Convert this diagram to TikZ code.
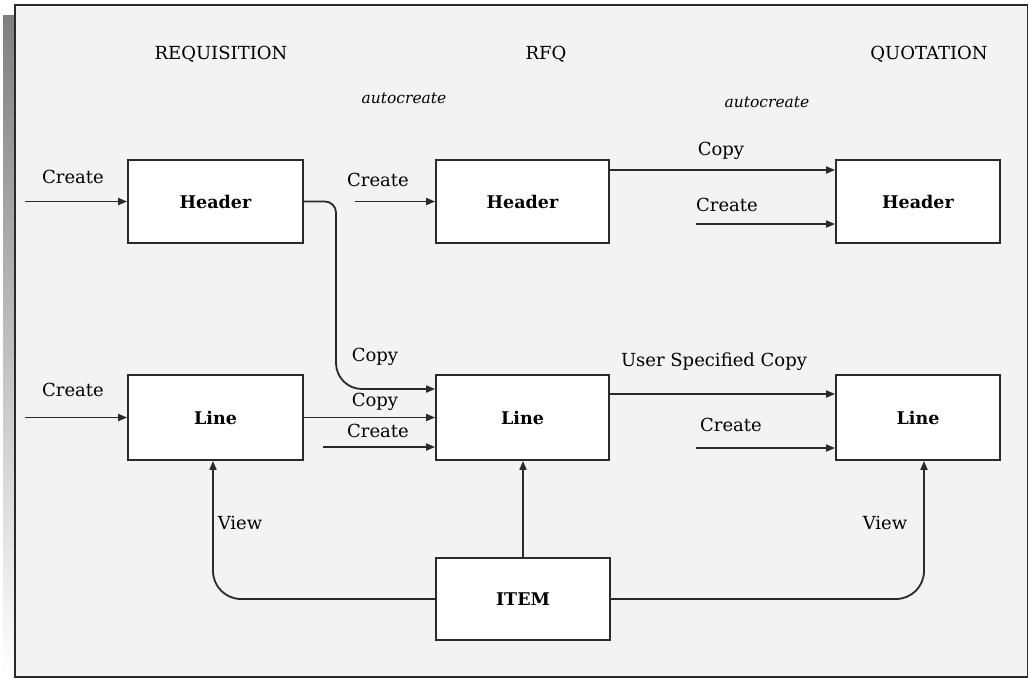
\documentclass[tikz,border=0pt]{standalone}
\usepackage{fontspec}
\setmainfont{DejaVu Serif}
\usetikzlibrary{arrows.meta}
\definecolor{bg}{HTML}{F3F3F3}
\definecolor{shade}{HTML}{C0C0C0}
\definecolor{ink}{HTML}{2A2A2A}
\begin{document}
\begin{tikzpicture}[x=1pt,y=-1pt,
  box/.style={draw=ink, line width=1.8pt, fill=white, inner sep=0pt, font=\fontsize{17.5}{20}\selectfont\bfseries},
  arr/.style={draw=ink, line width=1.8pt, -{Triangle[length=9pt,width=7pt]}},
  lbl/.style={font=\fontsize{18}{20}\selectfont, inner sep=0pt},
  it/.style={font=\fontsize{15.5}{17}\selectfont\itshape, inner sep=0pt}]
\useasboundingbox (0,0) rectangle (1029,678);
\fill[white] (0,0) rectangle (1029,678);
\fill[shade] (3,15) rectangle (15,678);
\draw[fill=bg, draw=ink, line width=1.8pt] (15,5) rectangle (1027.5,677);

% titles
\node[lbl] (t1) at (221,54) {REQUISITION};
\node[lbl] (t2) at (546,54) {RFQ};
\node[lbl] (t3) at (929,54) {QUOTATION};
\node[it] (a1) at (404,98) {autocreate};
\node[it] (a2) at (767,102) {autocreate};

% boxes
\node[box, minimum width=175pt, minimum height=83pt] (rh) at (215.5,201.5) {Header};
\node[box, minimum width=173pt, minimum height=83pt] (fh) at (522.5,201.5) {Header};
\node[box, minimum width=164pt, minimum height=83pt] (qh) at (918,201.5) {Header};
\node[box, minimum width=175pt, minimum height=85pt] (rl) at (215.5,417.5) {Line};
\node[box, minimum width=173pt, minimum height=85pt] (fl) at (522.5,417.5) {Line};
\node[box, minimum width=164pt, minimum height=85pt] (ql) at (918,417.5) {Line};
\node[box, minimum width=174pt, minimum height=82pt] (item) at (523,599) {ITEM};

% free ends
\coordinate (s1) at (25,201.5);
\coordinate (s2) at (25,417.5);
\coordinate (s3) at (355,201.5);
\coordinate (s4) at (323,447);
\coordinate (s5) at (696,224);
\coordinate (s6) at (696,448);

% create arrows
\draw[arr] (s1) -- (rh.west);
\draw[arr] (s2) -- (rl.west);
\draw[arr] (s3) -- (fh.west);
\draw[arr] (s4) -- (s4 -| fl.west);
\draw[arr] (s5) -- (s5 -| qh.west);
\draw[arr] (s6) -- (s6 -| ql.west);

% copies
\draw[arr] (rh.east) [rounded corners=11pt] -- (336,201.5) [rounded corners=26pt] -- (336,389) [sharp corners] -- ([yshift=28.5pt]fl.west);
\draw[arr] (rl.east) -- (fl.west);
\draw[arr] ([yshift=31.5pt]fh.east) -- ([yshift=31.5pt]qh.west);
\draw[arr] ([yshift=23.5pt]fl.east) -- ([yshift=23.5pt]ql.west);

% item
\draw[arr] (item.north) -- (item.north |- fl.south);
\draw[arr, rounded corners=28pt] (item.west) -| ([xshift=-2.5pt]rl.south);
\draw[arr, rounded corners=28pt] (item.east) -| ([xshift=6pt]ql.south);

% labels
\node[lbl] (l1) at (73,177) {Create};
\node[lbl] (l2) at (73,390) {Create};
\node[lbl] (l3) at (378,180) {Create};
\node[lbl] (l4) at (375,357) {Copy};
\node[lbl] (l5) at (375,402) {Copy};
\node[lbl] (l6) at (378,431) {Create};
\node[lbl] (l7) at (721,151) {Copy};
\node[lbl] (l8) at (727,205) {Create};
\node[lbl] (l9) at (714,362) {User Specified Copy};
\node[lbl] (l10) at (731,425) {Create};
\node[lbl] (l11) at (240,523) {View};
\node[lbl] (l12) at (885,523) {View};
\end{tikzpicture}
\end{document}
